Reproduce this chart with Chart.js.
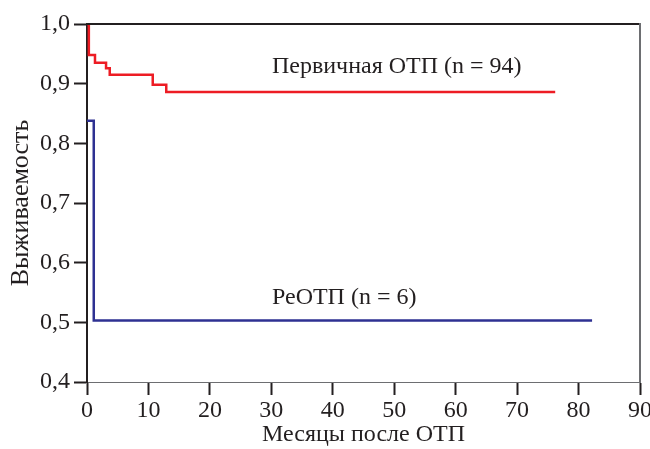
<!DOCTYPE html>
<html>
<head>
<meta charset="utf-8">
<script src="https://cdn.jsdelivr.net/npm/chart.js@4.4.1/dist/chart.umd.min.js"></script>
<style>
  html, body { margin: 0; padding: 0; background: #fff; }
  #wrap { width: 650px; height: 449px; }
</style>
</head>
<body>
<div id="wrap"><canvas id="km"></canvas></div>
<script>
// Kaplan-Meier steps (months, survival)
var primaryTime = [0, 0.3, 1.3, 3.1, 3.7, 10.7, 12.9, 76.2];
var primarySurv = [1.0, 0.948, 0.935, 0.926, 0.915, 0.898, 0.886, 0.886];
var reTime = [0, 1.1, 82.2];
var reSurv = [0.838, 0.503, 0.503];

var xTicks = [0, 10, 20, 30, 40, 50, 60, 70, 80, 90];
var yTickLabels = ["0,4", "0,5", "0,6", "0,7", "0,8", "0,9", "1,0"];

var primaryLabel = "Первичная ОТП (n = 94)";
var reLabel = "РеОТП (n = 6)";

function toPoints(t, s) {
  return t.map(function (v, i) { return { x: v, y: s[i] }; });
}

var serif = "'Liberation Serif', 'Times New Roman', serif";
var ink = "#231f20";

var frame = {
  id: "frame",
  afterDatasetsDraw: function (chart) {
    var a = chart.chartArea, c = chart.ctx;
    c.save();
    c.lineWidth = 2;
    c.strokeStyle = ink;
    c.beginPath();
    c.moveTo(a.left, a.top);
    c.lineTo(a.right, a.top);
    c.stroke();
    c.strokeStyle = "#6d6e71";
    c.beginPath();
    c.moveTo(a.right, a.top - 1);
    c.lineTo(a.right, a.bottom);
    c.stroke();
    // labels on the curves
    var x = chart.scales.x, y = chart.scales.y;
    c.fillStyle = ink;
    c.font = "24px " + serif;
    c.textBaseline = "middle";
    c.fillText(primaryLabel, x.getPixelForValue(30.1), y.getPixelForValue(0.929));
    c.fillText(reLabel, x.getPixelForValue(30.1), y.getPixelForValue(0.541));
    c.restore();
  }
};

var ctx = document.getElementById("km").getContext("2d");
var myChart = new Chart(ctx, {
  type: "scatter",
  data: {
    datasets: [
      {
        label: primaryLabel,
        data: toPoints(primaryTime, primarySurv),
        showLine: true,
        stepped: "before",
        borderColor: "#ed1c24",
        borderWidth: 2.5,
        pointRadius: 0,
      },
      {
        label: reLabel,
        data: toPoints(reTime, reSurv),
        showLine: true,
        stepped: "before",
        borderColor: "#2e3192",
        borderWidth: 2.5,
        pointRadius: 0,
      },
    ],
  },
  options: {
    responsive: true,
    maintainAspectRatio: false,
    animation: false,
    layout: { padding: { top: 24, right: 10, left: 0, bottom: 0 } },
    plugins: {
      legend: { display: false },
      tooltip: { enabled: false },
    },
    scales: {
      x: {
        type: "linear",
        min: 0,
        max: 90,
        afterFit: function (s) {
          s.height = 67;
          s.paddingLeft = 0;
          s.paddingRight = 0;
        },
        afterBuildTicks: function (s) {
          s.ticks = xTicks.map(function (v) { return { value: v }; });
        },
        border: { display: true, color: "#6d6e71", width: 1 },
        grid: {
          drawOnChartArea: false,
          drawTicks: true,
          tickLength: 13,
          tickWidth: 2,
          tickColor: ink,
        },
        ticks: {
          color: ink,
          padding: 1,
          maxRotation: 0,
          font: { family: serif, size: 24 },
        },
        title: {
          display: true,
          text: "Месяцы после ОТП",
          color: ink,
          font: { family: serif, size: 24 },
          padding: { top: 0, bottom: 0 },
        },
      },
      y: {
        min: 0.4,
        max: 1.0,
        afterFit: function (s) {
          s.width = 87;
          s.paddingTop = 0;
          s.paddingBottom = 0;
        },
        ticks: {
          stepSize: 0.1,
          color: ink,
          padding: 4,
          font: { family: serif, size: 24 },
          callback: function (value, index) { return yTickLabels[index]; },
        },
        border: { display: true, color: ink, width: 2 },
        grid: {
          drawOnChartArea: false,
          drawTicks: true,
          tickLength: 13,
          tickWidth: 2,
          tickColor: ink,
        },
        title: {
          display: true,
          text: "Выживаемость",
          color: ink,
          font: { family: serif, size: 26 },
          padding: { top: 6, bottom: 0 },
        },
      },
    },
  },
  plugins: [frame],
});
</script>
</body>
</html>
